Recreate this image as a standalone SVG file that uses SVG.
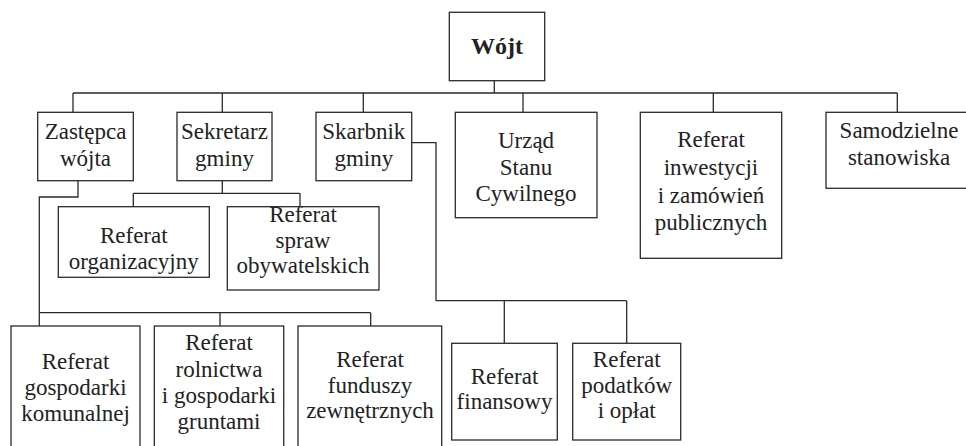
<svg xmlns="http://www.w3.org/2000/svg" width="966" height="446" viewBox="0 0 966 446">
<style>
.box{fill:#fff;stroke:#2a2a2a;stroke-width:1.3}
.ln{fill:none;stroke:#2a2a2a;stroke-width:1.3}
text{font-family:'Liberation Serif','Times New Roman','DejaVu Serif',serif;font-size:23px;fill:#222;text-anchor:middle}
.b{font-weight:bold;font-size:24px}
</style>
<rect width="966" height="446" fill="#fff"/>
<g id="connectors">
<path class="ln" d="M494.3 80.7V93M73 93H897.3M73 93V112.3M222.3 93V112.3M363.3 93V112.3M523 93V112.3M713.3 93V112.3M897.3 93V112.3"/>
<path class="ln" d="M222.3 180.7V193.3M133.3 193.3H300M133.3 193.3V206.7M300 193.3V206.7"/>
<path class="ln" d="M78 180.7V197H39.3V326M39.3 312.7H370.7M220 312.7V326M370.7 312.7V326"/>
<path class="ln" d="M411.7 142.7H436V300.7M436 300.7H626.7M504.3 300.7V343.3M626.7 300.7V343.3"/>
</g>
<g id="wojt"><rect class="box" x="449.3" y="12.3" width="95.4" height="68.4"/><text class="b" x="497" y="54">Wójt</text></g>
<g id="zastepca"><rect class="box" x="37.7" y="112.3" width="95.6" height="68.4"/><text x="85.5" y="138.5">Zastępca</text><text x="85.5" y="165.5">wójta</text></g>
<g id="sekretarz"><rect class="box" x="177" y="112.3" width="95" height="68.4"/><text x="224.5" y="138.5">Sekretarz</text><text x="224.5" y="165.5">gminy</text></g>
<g id="skarbnik"><rect class="box" x="316" y="112.3" width="95.7" height="68.4"/><text x="363.8" y="138.5">Skarbnik</text><text x="363.8" y="165.5">gminy</text></g>
<g id="usc"><rect class="box" x="455.3" y="112.3" width="141.7" height="105.4"/><text x="526" y="148">Urząd</text><text x="526" y="174.5">Stanu</text><text x="526" y="201">Cywilnego</text></g>
<g id="inwestycji"><rect class="box" x="640.3" y="112.3" width="141.4" height="146"/><text x="711" y="147">Referat</text><text x="711" y="175">inwestycji</text><text x="711" y="202.5">i zamówień</text><text x="711" y="230">publicznych</text></g>
<g id="samodzielne"><rect class="box" x="826" y="112.3" width="150" height="76"/><text x="899" y="137.5">Samodzielne</text><text x="899" y="165">stanowiska</text></g>
<g id="organizacyjny"><rect class="box" x="58.3" y="206.7" width="151" height="70.6"/><text x="133.8" y="242.5">Referat</text><text x="133.8" y="268.5">organizacyjny</text></g>
<g id="obywatelskich"><rect class="box" x="227.3" y="206.7" width="151.7" height="83.3"/><text x="303" y="222">Referat</text><text x="303" y="247.5">spraw</text><text x="303" y="273">obywatelskich</text></g>
<g id="komunalnej"><rect class="box" x="11" y="326" width="129" height="130"/><text x="75.5" y="369">Referat</text><text x="75.5" y="395">gospodarki</text><text x="75.5" y="421">komunalnej</text></g>
<g id="rolnictwa"><rect class="box" x="154.3" y="326" width="129.4" height="130"/><text x="219" y="350">Referat</text><text x="219" y="376.5">rolnictwa</text><text x="219" y="403">i gospodarki</text><text x="219" y="429">gruntami</text></g>
<g id="funduszy"><rect class="box" x="298" y="326" width="143.7" height="130"/><text x="370" y="366.5">Referat</text><text x="370" y="393">funduszy</text><text x="370" y="418">zewnętrznych</text></g>
<g id="finansowy"><rect class="box" x="451.7" y="343.3" width="105.6" height="96.7"/><text x="504.5" y="383.5">Referat</text><text x="504.5" y="409">finansowy</text></g>
<g id="podatkow"><rect class="box" x="572.7" y="343.3" width="108" height="96.7"/><text x="626.7" y="367">Referat</text><text x="626.7" y="392.5">podatków</text><text x="626.7" y="418">i opłat</text></g>
</svg>
